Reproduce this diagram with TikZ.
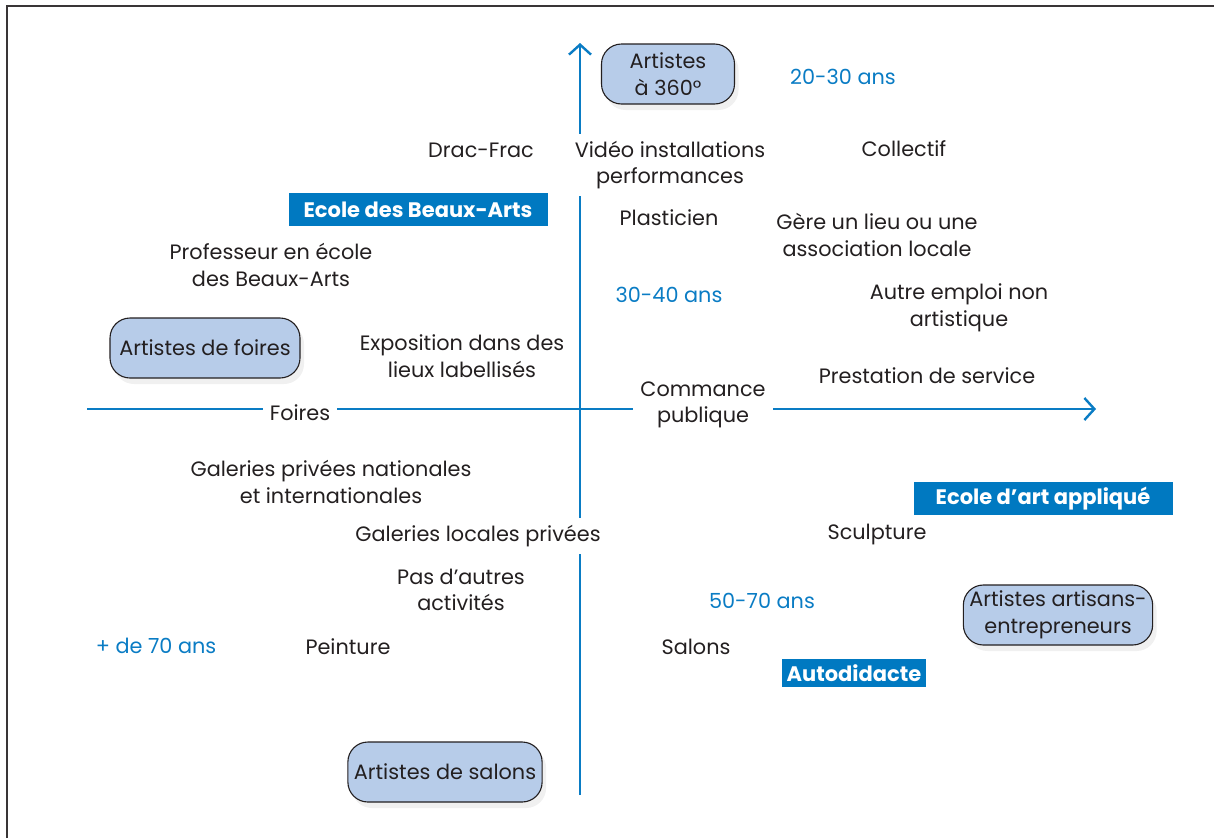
\documentclass[tikz,border=0pt]{standalone}
\usepackage{fontspec}
\setmainfont{Poppins}
\usetikzlibrary{arrows.meta,shadows}
\definecolor{axisblue}{HTML}{0A7CC4}
\definecolor{boxblue}{HTML}{0079C1}
\definecolor{pillfill}{HTML}{B7CCE9}
\definecolor{txt}{HTML}{231F20}
\begin{document}
\begin{tikzpicture}[x=1pt,y=-1pt,
  every node/.style={font=\fontsize{20.8}{26.5}\selectfont, text=txt, align=center, inner sep=0pt},
  agelbl/.style={text=axisblue},
  gap/.style={fill=white, inner sep=7pt},
  pill/.style={draw=txt, line width=1.1pt, fill=pillfill, rounded corners=20pt,
     minimum height=60pt, inner xsep=6pt,
     drop shadow={opacity=0.12, shadow xshift=4pt, shadow yshift=-6pt}},
  tag/.style={fill=boxblue, text=white, font=\fontsize{21}{22}\selectfont\bfseries, minimum height=33pt},
  axis/.style={draw=axisblue, line width=2.4pt, -{Straight Barb[length=10pt,width=22pt,line width=2.4pt]}}
]
\useasboundingbox (0,0) rectangle (1214,838);
\draw[line width=2.2pt, draw=txt!90] (7,838) -- (7,6) -- (1214,6);

\coordinate (vbot) at (580,795);
\coordinate (vtop) at (580,43);
\coordinate (hleft) at (87,409);
\coordinate (hright) at (1096,409);
\draw[axis] (vbot) -- (vtop);
\draw[axis] (hleft) -- (hright);

% texts crossing axes
\node[gap] (video) at (670,165) {Vidéo installations\\performances};
\node[gap] (galloc) at (478,536) {Galeries locales privées};
\node[gap] (foires) at (300,413) {Foires};
\node[gap] (commande) at (703,405) {Commance\\publique};

% pills
\node[pill, minimum width=190pt] (foirespill) at (205,348) {Artistes de foires};
\node[pill, minimum width=190pt] (salonspill) at (445,772) {Artistes de salons};
\node[pill, minimum width=133pt] (a360) at (668,74) {Artistes\\à 360°};
\node[pill, minimum width=189pt] (artisans) at (1058,615) {Artistes artisans-\\entrepreneurs};

% tags
\node[tag, minimum width=259pt] (beaux) at (418,209.5) {Ecole des Beaux-Arts};
\node[tag, minimum width=259pt] (applique) at (1043,498.5) {Ecole d’art appliqué};
\node[tag, minimum width=144pt, minimum height=28pt] (autodid) at (854,673) {Autodidacte};

% age labels
\node[agelbl] (a2030) at (843,77) {20-30 ans};
\node[agelbl] (a3040) at (669,295) {30-40 ans};
\node[agelbl] (a5070) at (762,601) {50-70 ans};
\node[agelbl] (a70) at (156,646) {+ de 70 ans};

% other labels
\node (drac) at (481,150) {Drac-Frac};
\node (collectif) at (904,149) {Collectif};
\node (plasticien) at (669,218) {Plasticien};
\node (gere) at (877,235) {Gère un lieu ou une\\association locale};
\node (prof) at (271,265) {Professeur en école\\des Beaux-Arts};
\node (autre) at (959,308) {Autre emploi non\\artistique};
\node (expo) at (462,356) {Exposition dans des\\lieux labellisés};
\node (presta) at (927,376) {Prestation de service};
\node (galnat) at (331,482) {Galeries privées nationales\\et internationales};
\node (sculpt) at (877,534) {Sculpture};
\node (pas) at (461,590) {Pas d’autres\\activités};
\node (peinture) at (348,647) {Peinture};
\node (salons) at (696,647) {Salons};
\end{tikzpicture}
\end{document}
